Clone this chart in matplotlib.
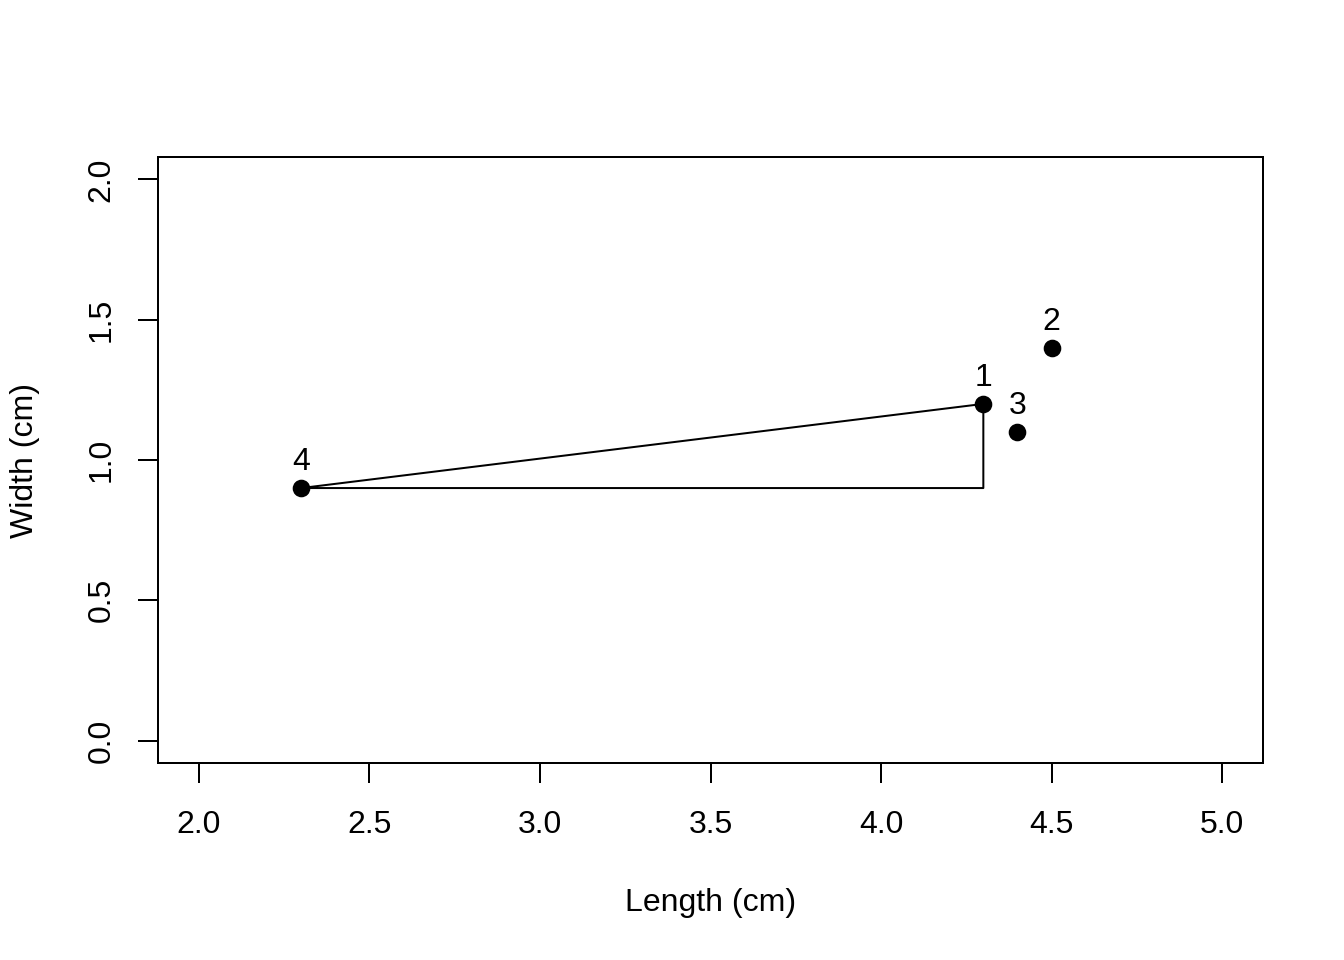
import matplotlib
matplotlib.use("Agg")
import matplotlib.pyplot as plt

# data
lengths = [4.3, 4.5, 4.4, 2.3]
widths = [1.2, 1.4, 1.1, 0.9]
labels = ["1", "2", "3", "4"]

# triangle between point 4 and point 1
tri_x = [lengths[3], lengths[0], lengths[0], lengths[3]]
tri_y = [widths[3], widths[0], widths[3], widths[3]]

xticks = [2.0, 2.5, 3.0, 3.5, 4.0, 4.5, 5.0]
yticks = [0.0, 0.5, 1.0, 1.5, 2.0]

plt.rcParams['font.family'] = ['Liberation Sans', 'DejaVu Sans']
plt.rcParams['font.size'] = 12

fig = plt.figure(figsize=(7, 5), dpi=192)
ax = fig.add_axes([158 / 1344, 1 - 763 / 960, 1105 / 1344, 606 / 960])

ax.plot(tri_x, tri_y, color="black", linewidth=0.75)
ax.plot(lengths, widths, "o", color="black", markersize=5.6)
for x, y, s in zip(lengths, widths, labels):
    ax.annotate(s, (x, y), xytext=(0, 6.8), textcoords="offset points",
                ha="center", va="baseline", fontsize=12)

ax.set_xlim(1.88, 5.12)
ax.set_ylim(-0.08, 2.08)
ax.set_xticks(xticks)
ax.set_yticks(yticks)
ax.set_xticklabels(["%.1f" % v for v in xticks])
ax.set_yticklabels(["%.1f" % v for v in yticks], rotation=90, va="center")
ax.tick_params(direction="out", length=7.5, width=0.75, labelsize=12)
ax.tick_params(axis="x", pad=10)
ax.tick_params(axis="y", pad=8)
for sp in ax.spines.values():
    sp.set_linewidth(0.75)

ax.set_xlabel("Length (cm)", fontsize=12, va="center")
ax.xaxis.set_label_coords(0.5, -(903 - 763) / 606)
ax.set_ylabel("Width (cm)", fontsize=12, va="center")
ax.yaxis.set_label_coords((25 - 158) / 1105, 0.5)

fig.savefig("out.png", dpi=192)
